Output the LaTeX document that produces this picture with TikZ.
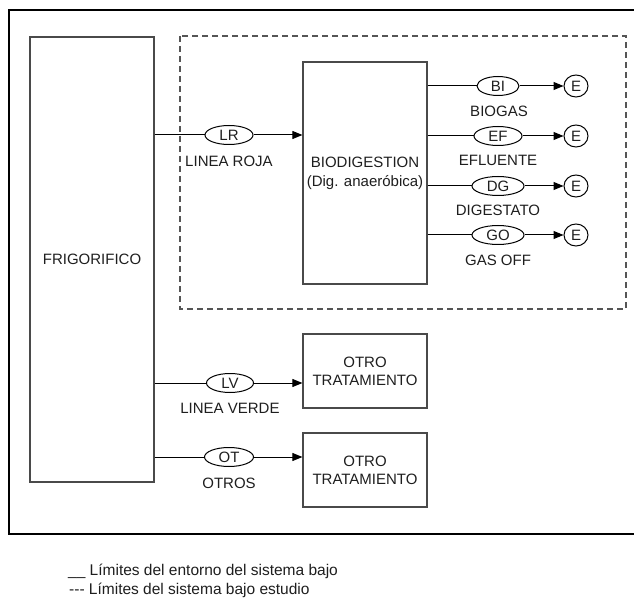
\documentclass[tikz,border=0pt]{standalone}
\usepackage{fontspec}
\setmainfont{Liberation Sans}
\usetikzlibrary{arrows.meta,shapes.geometric}

\definecolor{boxgray}{HTML}{4A4A4A}
\definecolor{dashgray}{HTML}{555555}
\definecolor{inkgray}{HTML}{1E1E1E}

\begin{document}
\begin{tikzpicture}[x=1pt,y=-1pt,
  font=\fontsize{15}{18}\selectfont,
  text=inkgray,
  blk/.style={draw=boxgray,line width=1.2pt,rectangle,inner sep=0pt,align=center},
  ell/.style={draw=black,line width=1pt,ellipse,inner sep=0pt,minimum height=19pt,minimum width=#1},
  ecirc/.style={draw=black,line width=1pt,ellipse,inner sep=0pt,minimum width=24pt,minimum height=22pt},
  lbl/.style={inner sep=0pt},
  flow/.style={draw=black,line width=1pt},
  arr/.style={flow,-{Triangle[length=10pt,width=8pt]}},
  legend/.style={inner sep=0pt,anchor=base west,font=\fontsize{15.5}{18}\selectfont},
]
\useasboundingbox (0,0) rectangle (634,601);

% environment boundary (open on the right edge)
\draw[black,line width=1.6pt] (634,10) -- (9,10) -- (9,534) -- (634,534);

% boundary of the system under study
\draw[dashgray,line width=1.4pt,dash pattern=on 6pt off 4pt] (180,36) rectangle (626,309);

% blocks
\node[blk,minimum width=124pt,minimum height=445pt] (frig) at (92,259.5) {FRIGORIFICO};
\node[blk,minimum width=124pt,minimum height=222pt,font=\fontsize{15}{19}\selectfont] (bio) at (365,173) {BIODIGESTION\\(Dig. anaeróbica)};
\node[blk,minimum width=124pt,minimum height=74pt] (otro1) at (365,371) {OTRO\\TRATAMIENTO};
\node[blk,minimum width=124pt,minimum height=74pt] (otro2) at (365,470) {OTRO\\TRATAMIENTO};

% input streams
\node[ell=48pt] (lr) at (229,135) {LR};
\node[lbl] (lrl) at (229,161) {LINEA ROJA};
\node[ell=47pt] (lv) at (230,383) {LV};
\node[lbl] (lvl) at (230,408) {LINEA VERDE};
\node[ell=49pt] (ot) at (229,457) {OT};
\node[lbl] (otl) at (229,483) {OTROS};

\draw[flow] (lr.west -| frig.east) -- (lr.west);
\draw[arr] (lr.east) -- (lr.east -| bio.west);
\draw[flow] (lv.west -| frig.east) -- (lv.west);
\draw[arr] (lv.east) -- (lv.east -| otro1.west);
\draw[flow] (ot.west -| frig.east) -- (ot.west);
\draw[arr] (ot.east) -- (ot.east -| otro2.west);

% output streams of the digester
\node[ell=42pt] (bi) at (498,86) {BI};
\node[lbl] (bil) at (499,111) {BIOGAS};
\node[ell=48pt] (ef) at (498,136) {EF};
\node[lbl] (efl) at (498,160) {EFLUENTE};
\node[ell=52pt] (dg) at (498,186) {DG};
\node[lbl] (dgl) at (498,210) {DIGESTATO};
\node[ell=52pt] (go) at (498,235) {GO};
\node[lbl] (gol) at (498,260) {GAS OFF};

\node[ecirc] (e1) at (576,86) {E};
\node[ecirc] (e2) at (576,136) {E};
\node[ecirc] (e3) at (576,186) {E};
\node[ecirc] (e4) at (576,235) {E};

\foreach \s/\e in {bi/e1,ef/e2,dg/e3,go/e4}{
  \draw[flow] (\s.west -| bio.east) -- (\s.west);
  \draw[arr] (\s.east) -- (\e.west);
}

% legend
\node[legend] (leg1) at (68,575) {\_\_ Límites del entorno del sistema bajo};
\node[legend] (leg2) at (69,594) {{-}{-}{-} Límites del sistema bajo estudio};
\end{tikzpicture}
\end{document}
